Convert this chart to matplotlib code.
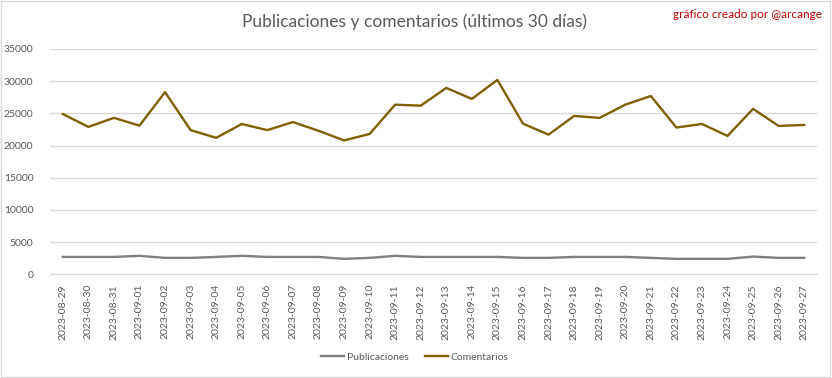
import matplotlib
matplotlib.use('Agg')
import matplotlib.pyplot as plt
import pandas as pd

plt.rcParams['font.family'] = ['Lato', 'DejaVu Sans']

# datos
fechas = [d.strftime('%Y-%m-%d') for d in pd.date_range('2023-08-29', '2023-09-27')]
publicaciones = [2700, 2700, 2700, 2870, 2550, 2550, 2700, 2870, 2700, 2700,
                 2700, 2400, 2550, 2870, 2700, 2700, 2700, 2700, 2550, 2550,
                 2700, 2700, 2700, 2550, 2400, 2400, 2400, 2750, 2550, 2550]
comentarios = [24900, 22900, 24300, 23100, 28300, 22400, 21200, 23350, 22400, 23650,
               22300, 20800, 21800, 26350, 26200, 28950, 27250, 30200, 23400, 21700,
               24600, 24300, 26350, 27700, 22800, 23350, 21500, 25700, 23050, 23200]

gris_texto = '#595959'

fig = plt.figure(figsize=(8.32, 3.78), dpi=100)
ax = fig.add_axes([50 / 832, 1 - 274.3 / 378, 767 / 832, 225.3 / 378])

x = range(len(fechas))
ax.plot(x, publicaciones, color='#7f7f7f', lw=1.7, label='Publicaciones')
ax.plot(x, comentarios, color='#7f6000', lw=1.7, label='Comentarios')

ax.set_xlim(-0.5, len(fechas) - 0.5)
ax.set_ylim(0, 35000)
ax.set_yticks(range(0, 35001, 5000))
ax.set_xticks(list(x))
ax.set_xticklabels(fechas, rotation=90)
ax.tick_params(axis='both', length=0, colors=gris_texto, labelsize=7.5)
ax.tick_params(axis='y', pad=12)
ax.tick_params(axis='x', pad=7)
ax.grid(True, axis='y', color='#d9d9d9', lw=1)
ax.set_axisbelow(True)
for s in ['top', 'right', 'left']:
    ax.spines[s].set_visible(False)
ax.spines['bottom'].set_color('#d9d9d9')

fig.text(415 / 832, 1 - 22 / 378, 'Publicaciones y comentarios (últimos 30 días)',
         ha='center', va='center', fontsize=12.5, color=gris_texto)
fig.text(822 / 832, 1 - 15 / 378, 'gráfico creado por @arcange',
         ha='right', va='center', fontsize=8.5, color='#c00000')

fig.legend(loc='center', bbox_to_anchor=(415 / 832, 1 - 357 / 378), ncol=2,
           frameon=False, fontsize=7.5, labelcolor=gris_texto,
           handlelength=2.2, handletextpad=0.3, columnspacing=1.5)

# borde del area del grafico
fig.patches.append(plt.Rectangle((0.001, 0.002), 0.997, 0.995, transform=fig.transFigure,
                                 fill=False, edgecolor='#d9d9d9', lw=1))

plt.savefig('out.png')
plt.close()
